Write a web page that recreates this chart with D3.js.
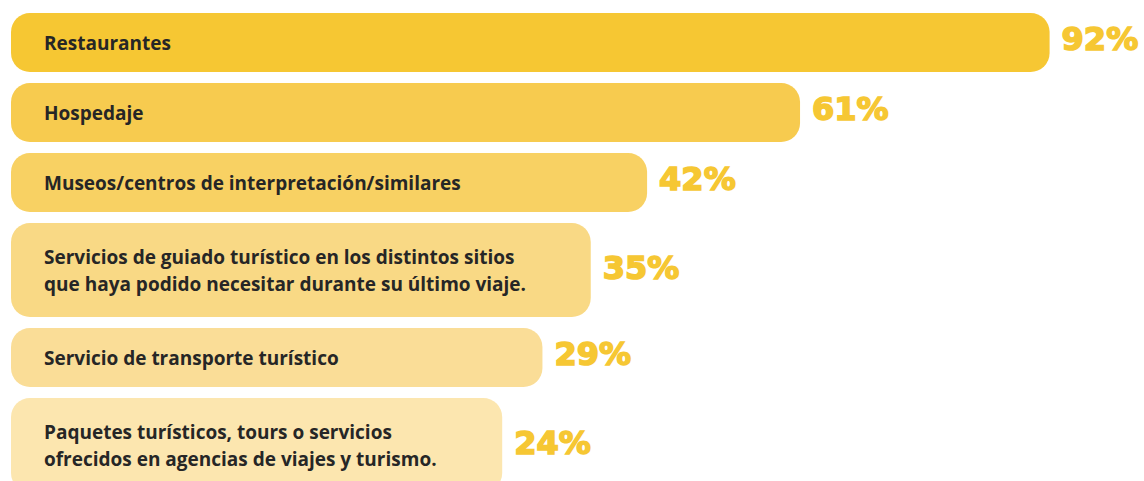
<html><head>
<script src="https://d3js.org/d3.v7.min.js"></script>
<style>
  body { margin: 0; background: #fff; }
  .label { font-family: "Open Sans", sans-serif; font-weight: 700; font-size: 19px; fill: #262626; }
  .pct { font-family: "DejaVu Sans", sans-serif; font-weight: 700; font-size: 32px; fill: #f6c733; stroke: #f6c733; stroke-width: 1.6px; }
</style>
</head>
<body>
<svg id="chart" width="1144" height="481"></svg>
<script>
// data
const labels = [
  ["Restaurantes"],
  ["Hospedaje"],
  ["Museos/centros de interpretación/similares"],
  ["Servicios de guiado turístico en los distintos sitios", "que haya podido necesitar durante su último viaje."],
  ["Servicio de transporte turístico"],
  ["Paquetes turísticos, tours o servicios", "ofrecidos en agencias de viajes y turismo."]
];
const values = [92, 61, 42, 35, 29, 24];
const colors = ["#f6c733", "#f7cb4f", "#f8d163", "#f9d985", "#fadd97", "#fce6af"];

let svg = d3.select("svg#chart");

const left = 11;
const top0 = 13;
const gap = 11;
const lineH = 27;
const oneLine = 59;

// bars have a fixed lead so the labels always fit
const x = d3.scaleLinear().domain([0, 100]).range([309, 1114]);

let rows = [];
let y = top0;
labels.forEach((l, i) => {
  let h = oneLine + (l.length - 1) * 35;
  rows.push({lines: l, value: values[i], color: colors[i], y: y, h: h});
  y += h + gap;
});

let g = svg.selectAll("g.row").data(rows).enter().append("g").attr("class", "row");

g.append("rect")
  .attr("x", left)
  .attr("y", d => d.y)
  .attr("width", d => x(d.value) - left)
  .attr("height", d => d.h)
  .attr("rx", 19)
  .attr("fill", d => d.color);

g.each(function(d) {
  let cy = d.y + d.h / 2;
  let t = d3.select(this).append("text")
    .attr("class", "label")
    .attr("x", 44)
    .attr("y", cy - (d.lines.length - 1) * lineH / 2)
    .attr("dominant-baseline", "central");
  d.lines.forEach((s, j) => {
    t.append("tspan").attr("x", 44).attr("dy", j == 0 ? 0 : lineH).text(s);
  });
});

g.append("text")
  .attr("class", "pct")
  .attr("x", d => x(d.value) + 12)
  .attr("y", d => d.y + d.h / 2 - (d.lines.length > 1 ? 2 : 4))
  .attr("dominant-baseline", "central")
  .text(d => d.value + "%");
</script>
</body>
</html>
